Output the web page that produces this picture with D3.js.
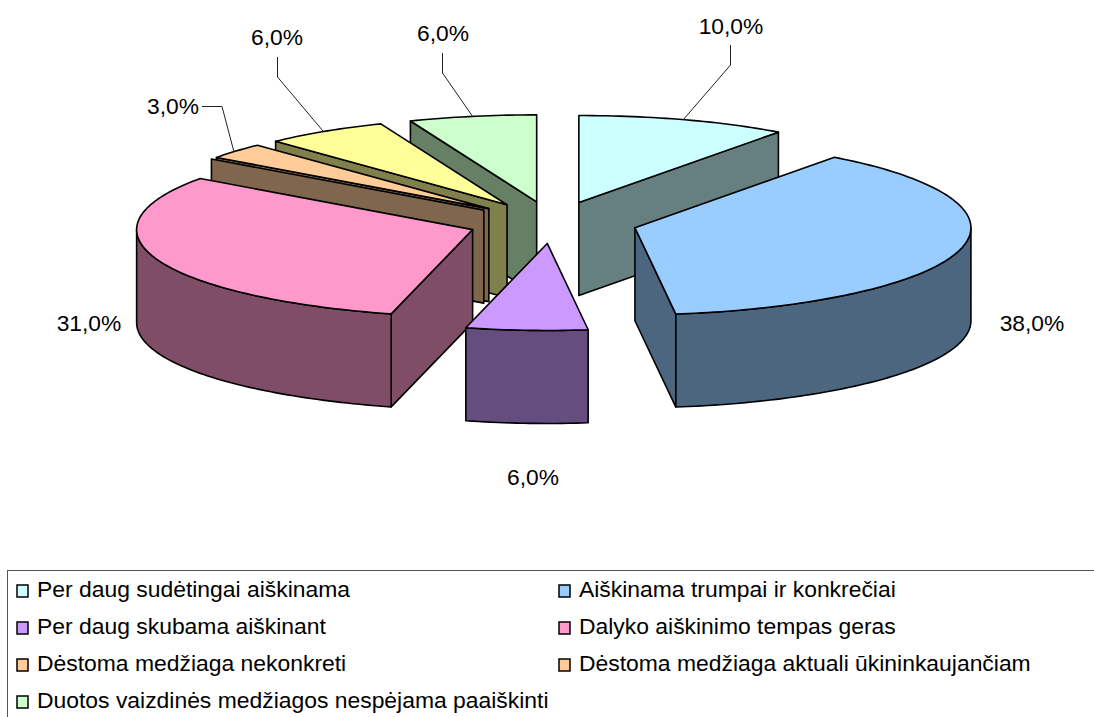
<!DOCTYPE html>
<html><head><meta charset="utf-8">
<script src="https://cdn.jsdelivr.net/npm/d3@7"></script>
<style>html,body{margin:0;padding:0;background:#fff}svg{display:block}text{font-family:"Liberation Sans",Arial,sans-serif;fill:#000}</style>
</head><body><svg id="c" width="1094" height="717"></svg>
<script>
const categories=["Per daug sudėtingai aiškinama","Aiškinama trumpai ir konkrečiai","Per daug skubama aiškinant","Dalyko aiškinimo tempas geras","Dėstoma medžiaga nekonkreti","Dėstoma medžiaga aktuali ūkininkaujančiam","Duotos vaizdinės medžiagos nespėjama paaiškinti"];
const legendColors=["#CCFFFF","#99CCFF","#CC99FF","#FF99CC","#FFCC99","#FFCC99","#CCFFCC"];
// The picture has a zero-size slice between the pink and the orange one (its wall is visible).
const values=[10,38,6,31,0,3,6,6];
const valueLabels=["10,0%","38,0%","6,0%","31,0%","","3,0%","6,0%","6,0%"];
const sliceColors=["#CCFFFF","#99CCFF","#CC99FF","#FF99CC","#FFCC99","#FFCC99","#FFFF99","#CCFFCC"];
const paintOrder=[0,1,7,6,5,4,3,2];

const cx=552.6,cy=222.5,rx=336,ry=87,depth=93,ex=85,ey=21,persp=0.03;
const svg=d3.select("#c");
const arcs=d3.pie().sort(null).startAngle(0).endAngle(2*Math.PI)(values);
const toP=(c,a)=>{const k=1+persp*Math.pow(Math.cos(a),5);return [c[0]+rx*k*Math.sin(a),c[1]-ry*Math.cos(a)];};
const down=p=>[p[0],p[1]+depth];
const line=d3.line();
const slices=arcs.map((d,i)=>{const m=(d.startAngle+d.endAngle)/2;
 return {i,a0:d.startAngle,a1:d.endAngle,c:[cx+ex*Math.sin(m),cy-ey*Math.cos(m)]};});
const arcPts=(c,a0,a1)=>{const n=Math.max(2,Math.ceil((a1-a0)/0.02));return d3.range(n+1).map(k=>toP(c,a0+(a1-a0)*k/n));};
const g=svg.append("g");
const dark=c=>{const q=d3.rgb(c);return d3.rgb(q.r*.5,q.g*.5,q.b*.5).formatHex();};
const face=(pts,fill)=>g.append("path").attr("d",line(pts)+"Z").attr("fill",fill).attr("stroke","#000").attr("stroke-width",1.6).attr("stroke-linejoin","round");
paintOrder.forEach(i=>{const s=slices[i],col=sliceColors[i],d=dark(col);
 if(Math.sin(s.a0)<-1e-6){const p=toP(s.c,s.a0);face([s.c,p,down(p),down(s.c)],d);}
 if(Math.sin(s.a1)>1e-6){const p=toP(s.c,s.a1);face([s.c,p,down(p),down(s.c)],d);}
 const f0=Math.max(s.a0,Math.PI/2),f1=Math.min(s.a1,Math.PI*1.5);
 if(f1>f0){const top=arcPts(s.c,f0,f1);face(top.concat(top.map(down).reverse()),d);}
 if(s.a1>s.a0)face([s.c].concat(arcPts(s.c,s.a0,s.a1)),col);
});
// data labels
const labelPos=[[731,34],[1032,331],[533,485],[89,331],null,[173,114],[277,45],[443,41]];
const leaders=[[[730.5,45],[730.5,65],[683,120]],[[202,106.5],[222,106.5],[234,152]],[[277.5,57],[277.5,77],[323,131]],[[442.5,53],[442.5,73],[473,117]]];
valueLabels.forEach((t,i)=>{if(t)svg.append("text").attr("x",labelPos[i][0]).attr("y",labelPos[i][1]).attr("text-anchor","middle").attr("font-size",22.8).text(t);});
leaders.forEach(p=>svg.append("path").attr("d",line(p)).attr("fill","none").attr("stroke","#222").attr("stroke-width",1));
// legend
svg.append("rect").attr("x",7.5).attr("y",570.5).attr("width",1200).attr("height",300).attr("fill","#fff").attr("stroke","#555").attr("stroke-width",1);
const col=d3.scalePoint().domain([0,1]).range([22,564]);
const row=d3.scalePoint().domain([0,1,2,3]).range([589,700]);
categories.forEach((t,i)=>{const x=col(i%2),y=row(Math.floor(i/2));
 svg.append("rect").attr("x",x-5).attr("y",y-4).attr("width",11).attr("height",12).attr("fill",legendColors[i]).attr("stroke","#000").attr("stroke-width",1.5);
 svg.append("text").attr("x",x+15).attr("y",y+7.5).attr("font-size",22.9).text(t);});
</script></body></html>
